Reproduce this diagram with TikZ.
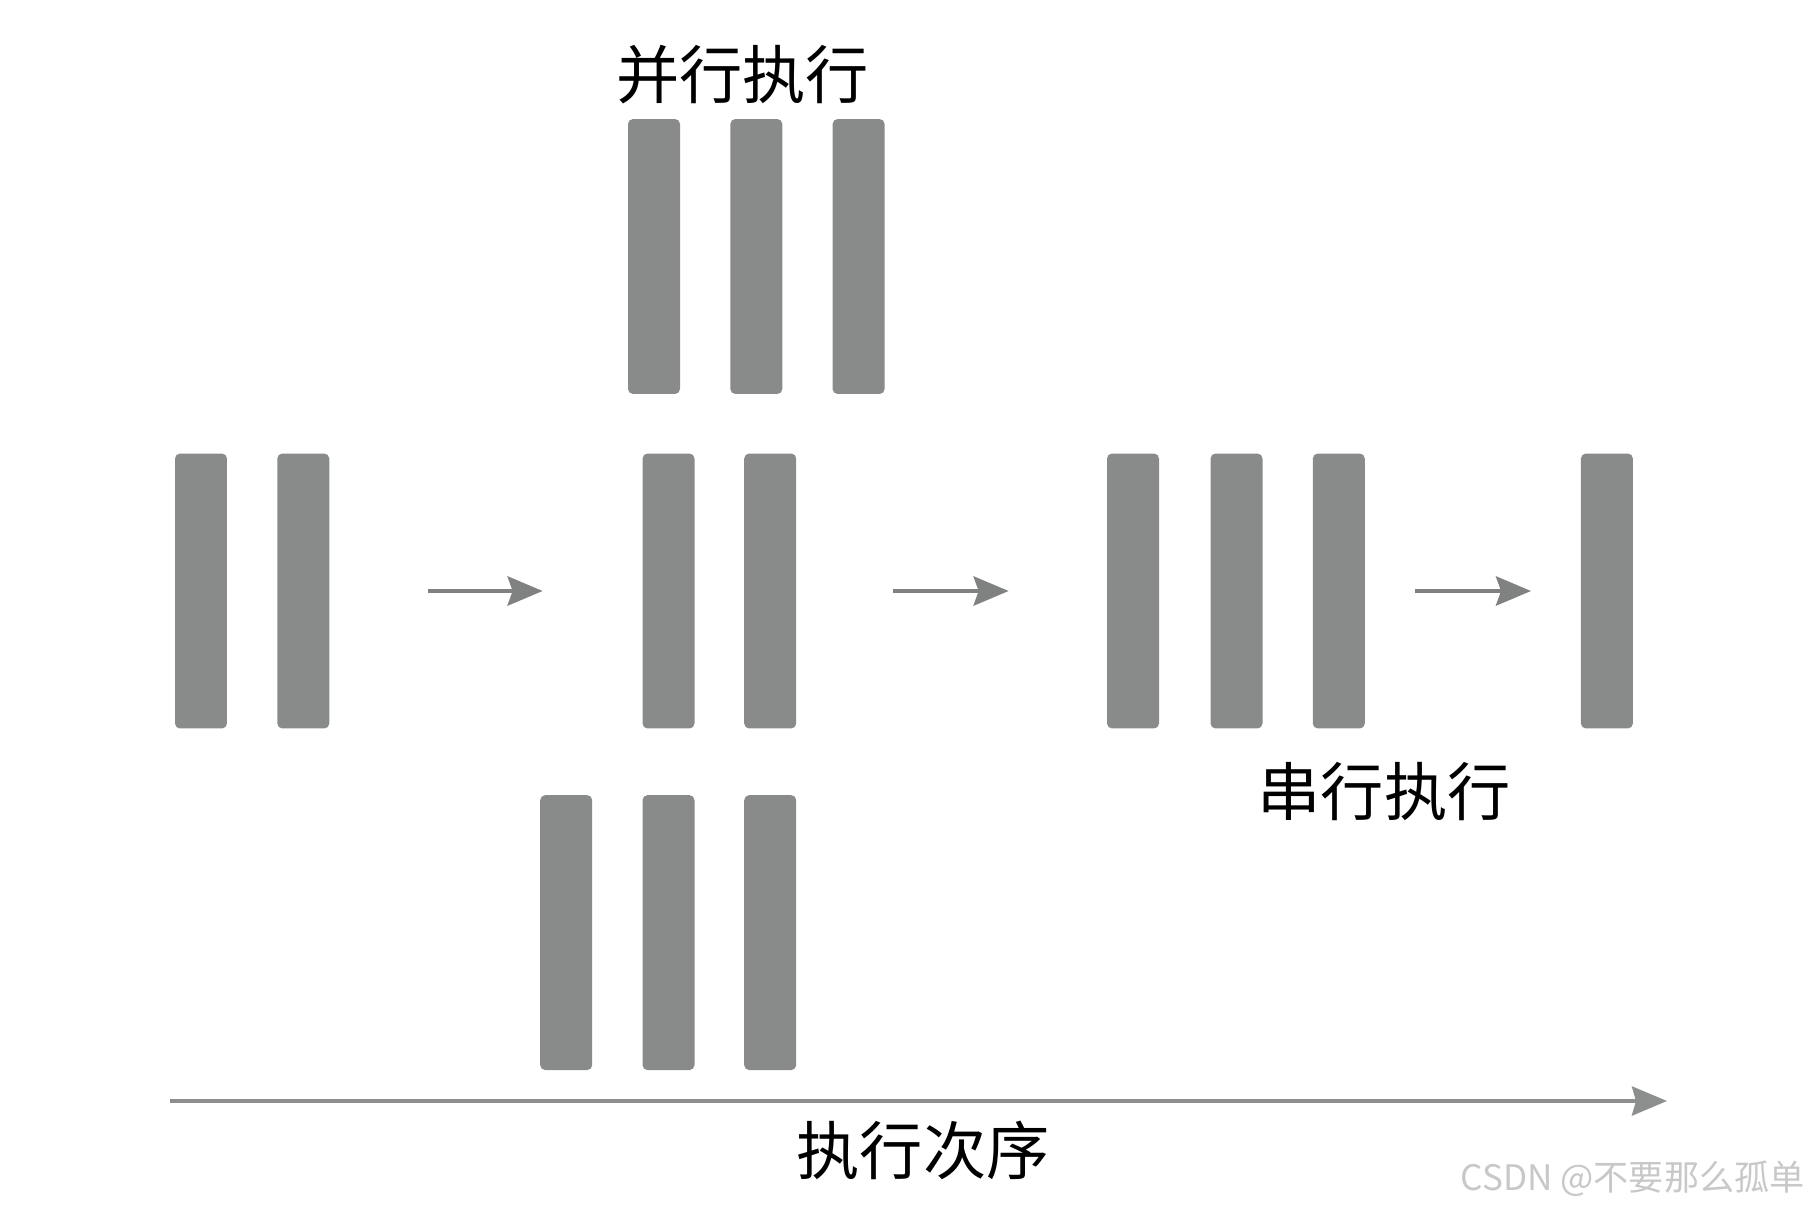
\documentclass[tikz,border=0pt]{standalone}
\usepackage{fontspec}
\newfontfamily\cjk{Noto Sans CJK SC}
\usetikzlibrary{arrows.meta}
\definecolor{BarGray}{RGB}{137,139,138}
\definecolor{LineGray}{RGB}{128,129,129}
\definecolor{MarkGray}{RGB}{200,200,200}

\begin{document}
\begin{tikzpicture}[x=0.02cm,y=-0.02cm,
    bar/.style={fill=BarGray, rounded corners=0.1cm, minimum width=1.04cm, minimum height=5.5cm, inner sep=0pt},
    flow/.style={line width=2.8pt, LineGray, -{Stealth[length=0.7cm,width=0.58cm,inset=0.1cm]}},
    order/.style={line width=2.3pt, LineGray!90, -{Stealth[length=0.7cm,width=0.58cm,inset=0.08cm]}},
    cjklabel/.style={font=\cjk\fontsize{36}{36}\selectfont, inner sep=0pt}]
                    \useasboundingbox (0,0) rectangle (1812,1210);
%                    bars
                    \foreach \x [count=\i] in {201,303.3} {
                        \node[bar] (a\i) at (\x,591) {};
                    }
                    \foreach \x [count=\i] in {668.5,770.2} {
                        \node[bar] (b\i) at (\x,591) {};
                    }
                    \foreach \x [count=\i] in {654,756.3,858.6} {
                        \node[bar] (p\i) at (\x,256.5) {};
                    }
                    \foreach \x [count=\i] in {566.2,668.5,770.2} {
                        \node[bar] (q\i) at (\x,932.6) {};
                    }
                    \foreach \x [count=\i] in {1133,1236.5,1338.8} {
                        \node[bar] (s\i) at (\x,591) {};
                    }
                    \node[bar] (c1) at (1606.9,591) {};

%                    labels
                    \node[cjklabel] (parallel) at (742.5,75) {并行执行};
                    \node[cjklabel] (serial) at (1384,792) {串行执行};
                    \node[cjklabel] (ordertext) at (923,1150) {执行次序};
                    \node[font=\cjk\fontsize{20}{20}\selectfont, text=MarkGray, anchor=east, inner sep=0pt] (mark) at (1805,1179) {CSDN @不要那么孤单};

%                    arrows
                    \draw[flow, shorten <=1.97cm, shorten >=1.99cm] (a2.east) -- (b1.west);
                    \draw[flow, shorten <=1.92cm, shorten >=1.96cm] (b2.east) -- (s1.west);
                    \draw[flow, shorten <=0.99cm, shorten >=0.99cm] (s3.east) -- (c1.west);

                    \coordinate (t0) at (170,1101);
                    \coordinate (t1) at (1667,1101);
                    \draw[order] (t0) -- (t1);

                \end{tikzpicture}
\end{document}
